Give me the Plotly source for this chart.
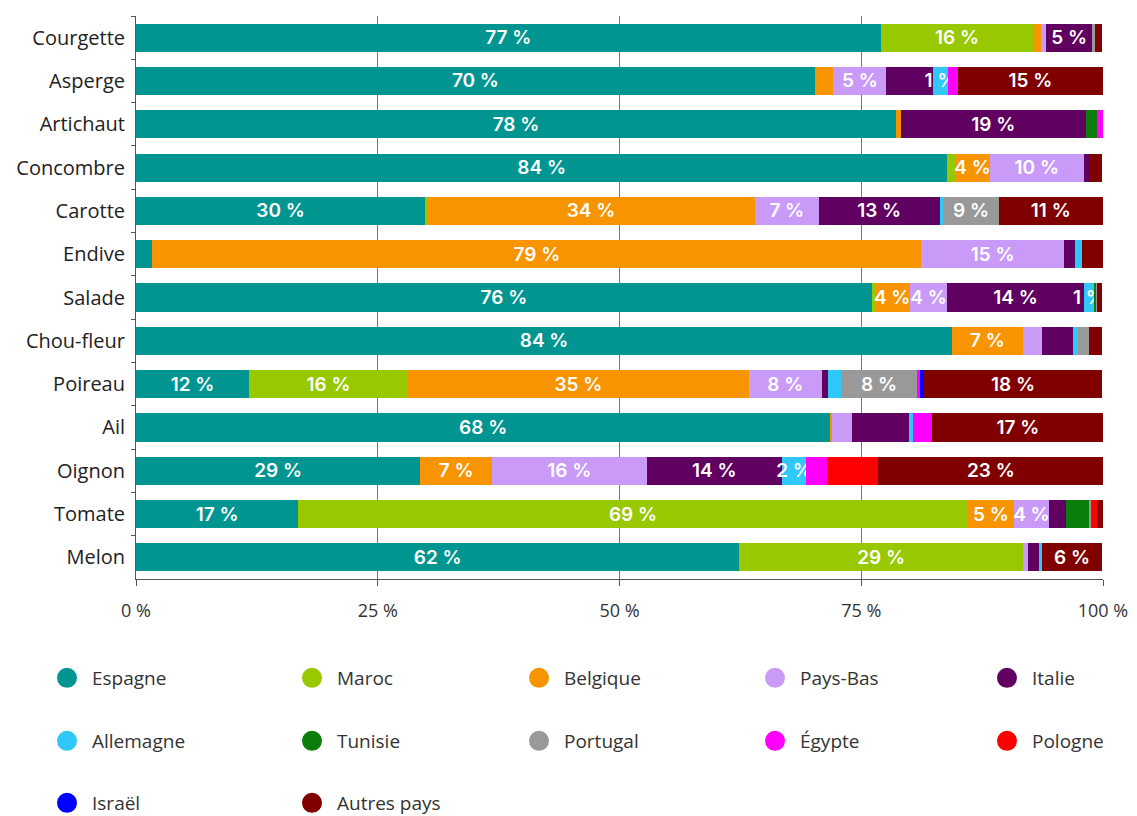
import plotly.graph_objects as go

categories = ["Courgette", "Asperge", "Artichaut", "Concombre", "Carotte", "Endive", "Salade",
              "Chou-fleur", "Poireau", "Ail", "Oignon", "Tomate", "Melon"]

espagne   = [77.0, 70.2, 78.6, 83.9, 29.9, 1.7, 76.1, 84.4, 11.7, 71.8, 29.4, 16.8, 62.4]
maroc     = [15.8, 0, 0, 0.8, 0.2, 0, 0.3, 0, 16.4, 0, 0, 69.2, 29.3]
belgique  = [0.8, 1.9, 0.5, 3.6, 33.9, 79.5, 3.6, 7.3, 35.3, 0.2, 7.4, 4.8, 0]
pays_bas  = [0.5, 5.5, 0, 9.7, 6.6, 14.8, 3.9, 2.0, 7.5, 2.0, 16.0, 3.6, 0.5]
italie    = [4.8, 4.8, 19.1, 0.6, 12.5, 1.1, 14.1, 3.2, 0.7, 5.9, 14.0, 1.8, 1.2]
allemagne = [0, 1.6, 0, 0, 0.4, 0.7, 1.1, 0.5, 1.3, 0.5, 2.5, 0, 0.3]
tunisie   = [0, 0, 1.2, 0, 0, 0, 0.2, 0, 0, 0, 0, 2.4, 0]
portugal  = [0.3, 0, 0, 0, 5.7, 0, 0.1, 1.2, 7.9, 0, 0, 0.2, 0]
egypte    = [0, 1.0, 0.6, 0, 0, 0, 0, 0, 0.3, 1.9, 2.2, 0, 0]
pologne   = [0, 0, 0, 0, 0, 0, 0, 0, 0, 0, 5.2, 0.6, 0]
israel    = [0, 0, 0, 0, 0, 0, 0, 0, 0.4, 0, 0, 0, 0]
autres    = [0.7, 15.0, 0, 1.3, 10.8, 2.2, 0.5, 1.3, 18.4, 17.8, 23.4, 0.6, 6.2]

lbl_espagne   = ["77 %", "70 %", "78 %", "84 %", "30 %", "", "76 %", "84 %", "12 %", "68 %", "29 %", "17 %", "62 %"]
lbl_maroc     = ["16 %", "", "", "", "", "", "", "", "16 %", "", "", "69 %", "29 %"]
lbl_belgique  = ["", "", "", "4 %", "34 %", "79 %", "4 %", "7 %", "35 %", "", "7 %", "5 %", ""]
lbl_pays_bas  = ["", "5 %", "", "10 %", "7 %", "15 %", "4 %", "", "8 %", "", "16 %", "4 %", ""]
lbl_italie    = ["5 %", "", "19 %", "", "13 %", "", "14 %", "", "", "", "14 %", "", ""]
lbl_allemagne = ["", "1 %", "", "", "", "", "1 %", "", "", "", "2 %", "", ""]
lbl_portugal  = ["", "", "", "", "9 %", "", "", "", "8 %", "", "", "", ""]
lbl_autres    = ["", "15 %", "", "", "11 %", "", "", "", "18 %", "17 %", "23 %", "", "6 %"]
lbl_none      = [""] * 13

series = [
    ("Espagne", espagne, lbl_espagne, "#009590"),
    ("Maroc", maroc, lbl_maroc, "#97C800"),
    ("Belgique", belgique, lbl_belgique, "#F89400"),
    ("Pays-Bas", pays_bas, lbl_pays_bas, "#C99AF7"),
    ("Italie", italie, lbl_italie, "#600060"),
    ("Allemagne", allemagne, lbl_allemagne, "#30C8F8"),
    ("Tunisie", tunisie, lbl_none, "#0A7D0A"),
    ("Portugal", portugal, lbl_portugal, "#999999"),
    ("Égypte", egypte, lbl_none, "#FF00FF"),
    ("Pologne", pologne, lbl_none, "#FF0000"),
    ("Israël", israel, lbl_none, "#0000FF"),
    ("Autres pays", autres, lbl_autres, "#800000"),
]

W, H = 1137, 816
left, right, top, bottom = 136, 1103, 16, 579

# legend grid: marker centre x per column, row centre y (pixels)
legend_cols = [62, 307, 534, 770, 1002]
legend_rows_y = [678, 741, 803]

fig = go.Figure()
for name, vals, labels, color in series:
    fig.add_trace(go.Bar(
        y=categories, x=vals, orientation="h", name=name,
        marker=dict(color=color, line=dict(width=0)),
        text=labels, textposition="inside", insidetextanchor="middle", textangle=0,
        textfont=dict(family="Inter", size=19, color="white", weight=600),
        showlegend=False, hoverinfo="x+y+name",
    ))

legend_layout = {}
for i, (name, vals, labels, color) in enumerate(series):
    lid = "legend" if i == 0 else f"legend{i + 1}"
    fig.add_trace(go.Scatter(
        x=[None], y=[None], mode="markers", name=name, legend=lid,
        marker=dict(symbol="circle", size=16, color=color, line=dict(color=color, width=4)),
        showlegend=True,
    ))
    col = legend_cols[i % 5]
    row = legend_rows_y[i // 5]
    legend_layout[lid] = dict(
        orientation="h", xref="container", yref="container",
        x=(col - 20) / W, xanchor="left",
        y=1 - row / H, yanchor="middle",
        itemwidth=40, itemsizing="trace",
        font=dict(family="Open Sans", size=19, color="#333333"),
        bgcolor="rgba(0,0,0,0)", borderwidth=0,
    )

fig.update_layout(
    width=W, height=H,
    margin=dict(l=left, r=W - right, t=top, b=H - bottom, pad=0, autoexpand=False),
    paper_bgcolor="white", plot_bgcolor="white",
    barmode="stack", bargap=0.35,
    uniformtext=dict(minsize=19, mode="show"),
    font=dict(family="Open Sans", color="#222222"),
    xaxis=dict(
        range=[0, 100], tickvals=[0, 25, 50, 75, 100],
        ticktext=["0 %", "25 %", "50 %", "75 %", "100 %"],
        showgrid=True, gridcolor="#777777", gridwidth=1,
        showline=True, linecolor="#555555", linewidth=1,
        ticks="outside", ticklen=6, tickcolor="#555555",
        ticklabelstandoff=9, automargin=False,
        tickfont=dict(family="Open Sans", size=18, color="#333333"),
        zeroline=False, fixedrange=True,
    ),
    yaxis=dict(
        categoryorder="array", categoryarray=categories, autorange="reversed",
        showline=True, linecolor="#555555", linewidth=1,
        ticks="outside", ticklen=4, tickcolor="#555555", tickson="boundaries",
        ticklabelstandoff=6, automargin=False,
        tickfont=dict(family="Open Sans", size=20, color="#222222"),
        showgrid=False, fixedrange=True,
    ),
    **legend_layout,
)

fig.write_html("out.html", config={"displayModeBar": False},
               post_script="document.body.style.margin='0';document.body.style.padding='0';")
